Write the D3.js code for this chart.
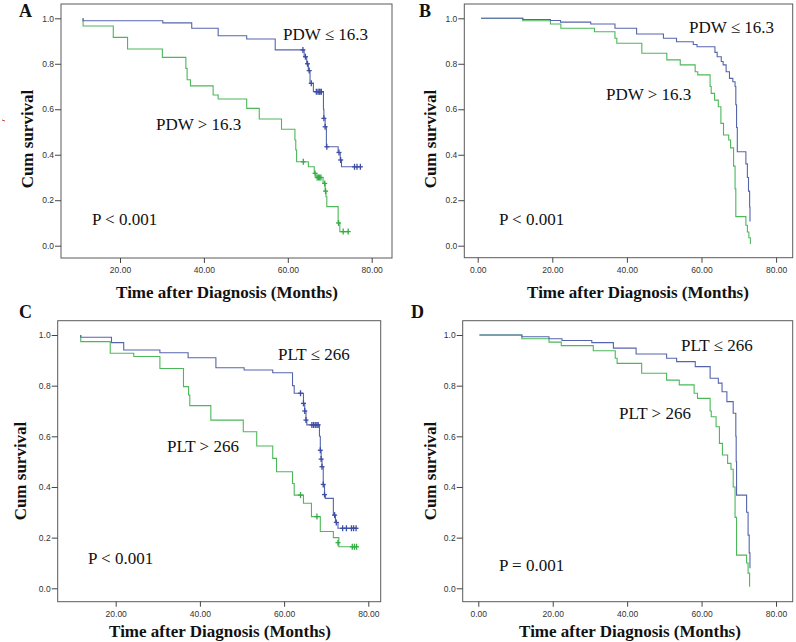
<!DOCTYPE html>
<html><head><meta charset="utf-8">
<script src="https://cdn.jsdelivr.net/npm/d3@7"></script>
<style>
html,body{margin:0;padding:0;background:#fff;}
svg{display:block;}
</style></head>
<body>
<svg id="chart" width="796" height="642"></svg>
<script>
// ---------- DATA ----------
const xTicksAC = [20, 40, 60, 80];
const xTicksBD = [0, 20, 40, 60, 80];
const yTicks = [0, 0.2, 0.4, 0.6, 0.8, 1.0];
const seriesNames = ["low", "high"];

// Panel A : PDW (subset 1)
const A_low = [[11.2,1],[11.2,0.989],[30.2,0.980],[37.1,0.956],[43.4,0.923],[50.2,0.909],[57.0,0.861],[63.9,0.831],[64.5,0.80],[64.9,0.77],[65.3,0.714],[66.1,0.677],[68.5,0.60],[68.6,0.56],[68.9,0.523],[69.2,0.435],[72.0,0.41],[72.5,0.377],[72.8,0.347],[77.6,0.347]];
const A_lowCens = [[63.6,0.861],[64.2,0.831],[64.7,0.80],[65.1,0.77],[65.6,0.714],[66.8,0.677],[67.2,0.677],[67.5,0.677],[67.7,0.677],[68.0,0.677],[68.6,0.56],[68.9,0.523],[69.3,0.435],[72.2,0.41],[72.6,0.377],[75.9,0.347],[76.5,0.347],[77.3,0.347]];
const A_high = [[11.2,1],[11.2,0.966],[18.4,0.916],[21.8,0.865],[30.1,0.828],[35.7,0.78],[36.0,0.73],[36.8,0.703],[42.2,0.663],[43.4,0.645],[50.2,0.604],[53.2,0.557],[58.5,0.512],[61.7,0.465],[61.9,0.421],[62.1,0.369],[64.9,0.347],[66.3,0.318],[66.7,0.30],[68.4,0.274],[68.9,0.24],[69.1,0.215],[69.3,0.172],[72.0,0.10],[72.4,0.062],[74.4,0.062]];
const A_highCens = [[63.7,0.369],[66.5,0.318],[67.0,0.30],[67.3,0.30],[67.6,0.30],[67.9,0.30],[68.8,0.274],[69.0,0.24],[72.1,0.10],[73.2,0.062],[74.4,0.062]];

// Panel B : PDW (subset 2)
const B_low = [[0.9,1],[12.1,0.995],[19.5,0.99],[22.2,0.983],[30.3,0.975],[36.8,0.956],[42.6,0.931],[49.8,0.912],[53.3,0.897],[57.8,0.885],[58.8,0.875],[63.6,0.85],[64.2,0.831],[65.3,0.81],[65.8,0.795],[66.6,0.765],[67.5,0.736],[68.4,0.721],[69.0,0.70],[69.2,0.62],[69.4,0.52],[69.6,0.413],[71.9,0.36],[72.3,0.30],[72.6,0.24],[72.9,0.17],[73.0,0.106]];
const B_high = [[0.9,1],[12.1,0.989],[19.5,0.975],[22.3,0.956],[31.3,0.941],[36.8,0.912],[37.3,0.89],[44.0,0.846],[50.7,0.817],[54.3,0.795],[58.3,0.765],[59.0,0.751],[62.3,0.70],[62.6,0.67],[63.5,0.64],[64.5,0.611],[65.2,0.538],[65.9,0.487],[67.3,0.465],[67.8,0.43],[68.6,0.35],[69.0,0.25],[69.2,0.128],[71.9,0.09],[72.3,0.06],[72.7,0.035],[73.1,0.008]];

// Panel C : PLT (subset 1)
const C_low = [[11.7,1],[11.7,0.991],[19.0,0.970],[21.9,0.941],[30.5,0.930],[37.2,0.910],[43.8,0.871],[50.5,0.862],[57.3,0.851],[62.0,0.80],[62.4,0.770],[64.6,0.730],[64.9,0.70],[65.2,0.664],[65.4,0.645],[68.4,0.60],[68.6,0.545],[68.8,0.51],[69.0,0.48],[69.3,0.41],[69.6,0.37],[69.8,0.355],[71.7,0.289],[72.2,0.26],[72.8,0.237],[77.2,0.237]];
const C_lowCens = [[63.9,0.77],[64.6,0.73],[64.9,0.70],[65.2,0.664],[66.6,0.645],[67.0,0.645],[67.4,0.645],[67.8,0.645],[68.1,0.645],[68.6,0.545],[68.8,0.51],[69.0,0.48],[69.3,0.41],[69.6,0.37],[72.0,0.289],[72.4,0.26],[73.9,0.237],[74.8,0.237],[76.0,0.237],[76.5,0.237],[77.1,0.237]];
const C_high = [[11.7,1],[11.7,0.974],[18.7,0.928],[24.3,0.915],[30.5,0.868],[36.1,0.796],[37.3,0.763],[37.6,0.721],[42.6,0.664],[50.3,0.618],[53.5,0.562],[57.3,0.513],[58.2,0.46],[62.0,0.414],[62.4,0.368],[64.6,0.336],[66.5,0.283],[68.6,0.224],[71.7,0.20],[73.0,0.164],[77.2,0.164]];
const C_highCens = [[63.9,0.368],[67.8,0.283],[72.8,0.18],[76.2,0.164],[76.7,0.164],[77.2,0.164]];

// Panel D : PLT (subset 2)
const D_low = [[0.3,1],[11.7,0.993],[19.0,0.985],[22.5,0.978],[30.5,0.970],[36.3,0.948],[42.4,0.925],[50.6,0.908],[53.3,0.895],[58.3,0.875],[62.3,0.829],[64.5,0.81],[65.5,0.776],[66.8,0.737],[68.5,0.691],[69.2,0.60],[69.3,0.50],[69.4,0.368],[72.1,0.30],[72.5,0.21],[72.8,0.14],[73.0,0.079]];
const D_high = [[0.3,1],[11.7,0.985],[19.0,0.972],[22.3,0.958],[30.9,0.938],[36.8,0.908],[37.3,0.888],[43.9,0.849],[50.6,0.822],[54.0,0.803],[58.0,0.770],[58.9,0.750],[62.3,0.70],[62.6,0.677],[63.9,0.638],[64.8,0.572],[65.6,0.526],[67.0,0.493],[67.9,0.47],[68.5,0.40],[69.0,0.28],[69.4,0.131],[72.1,0.10],[72.5,0.06],[72.9,0.006]];

const panelLetters = ["A", "B", "C", "D"];
const lowLabels = ["PDW \u2264 16.3", "PDW \u2264 16.3", "PLT \u2264 266", "PLT \u2264 266"];
const highLabels = ["PDW > 16.3", "PDW > 16.3", "PLT > 266", "PLT > 266"];
const pLabels = ["P < 0.001", "P < 0.001", "P < 0.001", "P = 0.001"];
const xTitle = "Time after Diagnosis (Months)";
const yTitle = "Cum survival";

// ---------- LAYOUT ----------
const BLUE = "#5565ad", BLUE_MARK = "#3d4ea5";
const GREEN = "#4cb85a", GREEN_MARK = "#34ad45";
const serif = "'Liberation Serif','Times New Roman',serif";
const sans = "'Liberation Sans',Arial,sans-serif";

const layouts = [
  {frame:[61,4,392,258], xr:[36.1,371.7], yr:[245.7,18.3], ticks:xTicksAC,
   letter:[19,17], xt:[227,298], yt:[33,139], lowL:[283,40], highL:[156,130], pL:[92,225],
   low:A_low, high:A_high, lowC:A_lowCens, highC:A_highCens},
  {frame:[464.3,4,792.7,257.7], xr:[477.7,776.1], yr:[245.7,18.3], ticks:xTicksBD,
   letter:[419,17], xt:[638,298], yt:[436,139], lowL:[689,33], highL:[606,100], pL:[499,225],
   low:B_low, high:B_high, lowC:[], highC:[]},
  {frame:[57.7,320.7,380.7,601.7], xr:[31.5,368.3], yr:[588.3,335], ticks:xTicksAC,
   letter:[19,318], xt:[220,637], yt:[26,471], lowL:[278,360], highL:[167,452], pL:[88,564],
   low:C_low, high:C_high, lowC:C_lowCens, highC:C_highCens},
  {frame:[462.7,320.7,792.7,601.7], xr:[478.3,776], yr:[588.3,335], ticks:xTicksBD,
   letter:[411,318], xt:[630,637], yt:[436,471], lowL:[681,351], highL:[619,419], pL:[499,571],
   low:D_low, high:D_high, lowC:[], highC:[]}
];

const svg = d3.select("#chart");
svg.append("rect").attr("width",796).attr("height",642).attr("fill","#fff");

layouts.forEach((L, i) => {
  const g = svg.append("g");
  const x = d3.scaleLinear().domain([0,80]).range(L.xr);
  const y = d3.scaleLinear().domain([0,1]).range(L.yr);
  const [fx0, fy0, fx1, fy1] = L.frame;

  // frame
  g.append("rect").attr("x",fx0).attr("y",fy0).attr("width",fx1-fx0).attr("height",fy1-fy0)
    .attr("fill","none").attr("stroke","#5a5a5a").attr("stroke-width",1);

  // x axis
  const xAxis = d3.axisBottom(x).tickValues(L.ticks).tickSize(5).tickPadding(4)
    .tickFormat(d3.format(".2f"));
  const xa = g.append("g").attr("transform",`translate(0,${fy1})`).call(xAxis);
  xa.select(".domain").remove();
  xa.selectAll("line").attr("stroke","#444");
  xa.selectAll("text").attr("font-family",sans).attr("font-size","8.5px").attr("fill","#333");

  // y axis
  const yAxis = d3.axisLeft(y).tickValues(yTicks).tickSize(6).tickPadding(1)
    .tickFormat(d3.format(".1f"));
  const ya = g.append("g").attr("transform",`translate(${fx0},0)`).call(yAxis);
  ya.select(".domain").remove();
  ya.selectAll("line").attr("stroke","#444");
  ya.selectAll("text").attr("font-family",sans).attr("font-size","8.5px").attr("fill","#333");

  // curves
  const line = d3.line().x(d => x(d[0])).y(d => y(d[1])).curve(d3.curveStepAfter);
  [[L.high, GREEN],[L.low, BLUE]].forEach(([data,col]) => {
    g.append("path").attr("d", line(data)).attr("fill","none")
      .attr("stroke",col).attr("stroke-width",1.1);
  });
  // censor marks
  [[L.highC, GREEN_MARK],[L.lowC, BLUE_MARK]].forEach(([data,col]) => {
    const m = g.append("g").attr("stroke",col).attr("stroke-width",1.3);
    m.selectAll("line.v").data(data).join("line")
      .attr("x1",d=>x(d[0])).attr("x2",d=>x(d[0]))
      .attr("y1",d=>y(d[1])-3).attr("y2",d=>y(d[1])+3);
    m.selectAll("line.h").data(data).join("line").attr("class","h")
      .attr("x1",d=>x(d[0])-2.5).attr("x2",d=>x(d[0])+2.5)
      .attr("y1",d=>y(d[1])).attr("y2",d=>y(d[1]));
  });

  // panel letter
  g.append("text").attr("x",L.letter[0]).attr("y",L.letter[1]).text(panelLetters[i])
    .attr("font-family",serif).attr("font-weight","bold").attr("font-size","18px").attr("fill","#111");
  // axis titles
  g.append("text").attr("x",L.xt[0]).attr("y",L.xt[1]).attr("text-anchor","middle").text(xTitle)
    .attr("font-family",serif).attr("font-weight","bold").attr("font-size","17px").attr("fill","#111");
  g.append("text").attr("transform",`translate(${L.yt[0]},${L.yt[1]}) rotate(-90)`)
    .attr("text-anchor","middle").text(yTitle)
    .attr("font-family",serif).attr("font-weight","bold").attr("font-size","17px").attr("fill","#111");
  // annotations
  [[L.lowL, lowLabels[i]],[L.highL, highLabels[i]],[L.pL, pLabels[i]]].forEach(([p,t]) => {
    g.append("text").attr("x",p[0]).attr("y",p[1]).text(t)
      .attr("font-family",serif).attr("font-size","17px").attr("fill","#111");
  });
});

// small red stray mark at left edge
svg.append("line").attr("x1",2).attr("x2",5).attr("y1",120).attr("y2",121)
  .attr("stroke","#d04040").attr("stroke-width",1);
</script>
</body></html>
